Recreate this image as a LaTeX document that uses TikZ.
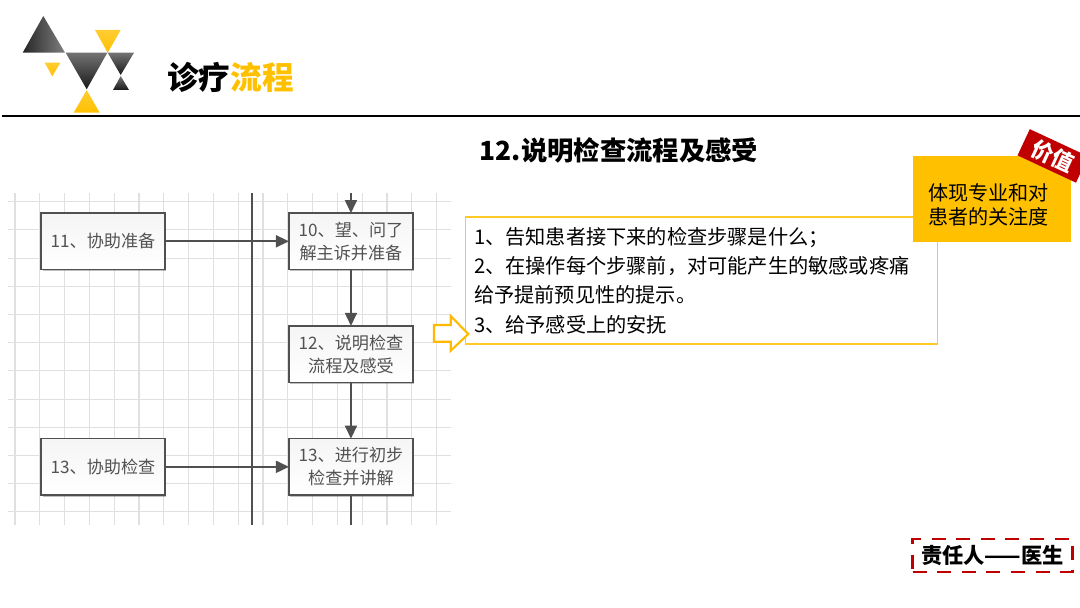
\documentclass[tikz,border=0pt]{standalone}
\usepackage{fontspec}
\setmainfont{Noto Sans CJK SC}
\usepackage{xcolor}
\usetikzlibrary{positioning,arrows.meta,shadows}
\definecolor{amber}{HTML}{FFC000}
\definecolor{tagred}{HTML}{C00000}
\definecolor{flowgray}{HTML}{505050}
\definecolor{gridgray}{HTML}{E0E0E0}
\begin{document}
\begin{tikzpicture}[
    x=0.02cm, y=-0.02cm,
    node distance=1.128cm and 2.48cm,
    >={Triangle[length=0.26cm,width=0.24cm]},
    flowbox/.style={rectangle, draw=flowgray, thick, outer sep=0pt, top color=gray!8, bottom color=white, minimum width=2.48cm, minimum height=1.128cm, inner sep=0pt, align=center, text=black!68, font={\fontsize{9.75}{13.2}\selectfont}, drop shadow={shadow xshift=0.03cm, shadow yshift=-0.03cm, opacity=0.25, fill=black}},
    flowline/.style={->, line width=0.95pt, flowgray},
    lane/.style={draw=flowgray, thick},
    gridline/.style={gridgray, line width=0.6pt},
    logodark/.style={left color=black!85, right color=black!50},
    logodown/.style={top color=black!55, bottom color=black!90},
    logoamber/.style={top color=amber!80, bottom color=amber}
]
    \useasboundingbox (0,0) rectangle (1080,608);

    \shade[logodark] (43.3,16) -- (22.7,52.7) -- (65,52.7) -- cycle;
    \shade[logoamber] (95,30) -- (120.7,30) -- (107.7,52.7) -- cycle;
    \shade[logodown] (65.7,52.7) -- (107.3,52.7) -- (86.7,89.3) -- cycle;
    \shade[logodown] (107.7,52.7) -- (134,52.7) -- (120.7,75) -- cycle;
    \shade[logodown] (120.7,76) -- (129,90) -- (113,90) -- cycle;
    \shade[logoamber] (44.7,62.7) -- (60.3,62.7) -- (52.3,76.3) -- cycle;
    \shade[logoamber] (86.7,90) -- (99.7,112.7) -- (73.7,112.7) -- cycle;

    \node[font={\fontsize{18}{20}\selectfont\bfseries}] (heading) at (230.5,77) {诊疗\textcolor{amber}{流程}};
    \draw[black, line width=1.7pt] (2,116) -- (1080,116);

    \node[font={\fontsize{15}{18}\selectfont\bfseries}] (subject) at (619,150) {12.说明检查流程及感受};

    \foreach \gx in {0,...,17}
        \draw[gridline] ({15+\gx*24.8},193) -- ({15+\gx*24.8},525);
    \foreach \gy in {0,...,11}
        \draw[gridline] (8,{201.7+\gy*28.2}) -- (451,{201.7+\gy*28.2});

    \coordinate (lanetop) at (252,193);
    \coordinate (lanebot) at (252,525);
    \draw[lane] (lanetop) -- (lanebot);

    \node[flowbox] (assist) at (103,241.3) {11、协助准备};
    \node[flowbox, right=of assist] (inquire) {10、望、问了\\解主诉并准备};
    \node[flowbox, below=of inquire] (explain) {12、说明检查\\流程及感受};
    \node[flowbox, below=of explain] (examine) {13、进行初步\\检查并讲解};
    \node[flowbox, left=of examine] (helpexam) {13、协助检查};

    \coordinate (flowin) at (inquire |- lanetop);
    \coordinate (flowout) at (examine |- lanebot);

    \draw[flowline] (flowin) -- (inquire);
    \draw[flowline] (assist) -- (inquire);
    \draw[flowline] (inquire) -- (explain);
    \draw[flowline] (explain) -- (examine);
    \draw[flowline] (helpexam) -- (examine);
    \draw[line width=0.95pt, flowgray] (examine) -- (flowout);

    \node[draw=amber!85, line width=0.6pt, minimum width=9.46cm, minimum height=2.54cm, text width=9.1cm, inner xsep=0.18cm, inner ysep=0pt, align=left, font={\fontsize{11.5}{16.7}\selectfont}] (notes) at (701.5,280.5) {1、告知患者接下来的检查步骤是什么；\\2、在操作每个步骤前，对可能产生的敏感或疼痛\\给予提前预见性的提示。\\3、给予感受上的安抚};

    \node[fill=amber, minimum width=3.16cm, minimum height=1.72cm, inner sep=0pt] (value) at (992,199) {};
    \node[align=center, inner sep=0pt, font={\fontsize{11.45}{13.6}\selectfont}] (valuetext) at (988.5,205) {体现专业和对\\患者的关注度};
    \node[fill=tagred, rotate=-25, minimum width=1.29cm, minimum height=0.58cm, inner sep=0pt, text=white, font={\fontsize{12.5}{13}\selectfont\bfseries}] (valuetag) at (1052.9,155.9) {价值};

    \draw[amber!90!orange, fill=white, line width=1.2pt, line join=miter] (434,325) -- (450.7,325) -- (450.7,316) -- (468.3,334) -- (450.7,350.7) -- (450.7,341.7) -- (434,341.7) -- cycle;

    \node[draw=tagred, dashed, line width=1.7pt, dash pattern=on 8pt off 6pt, minimum width=3.2cm, minimum height=0.66cm, inner sep=0pt, font={\fontsize{12.1}{14}\selectfont\bfseries}] (owner) at (992.5,555.5) {责任人——医生};
\end{tikzpicture}
\end{document}
